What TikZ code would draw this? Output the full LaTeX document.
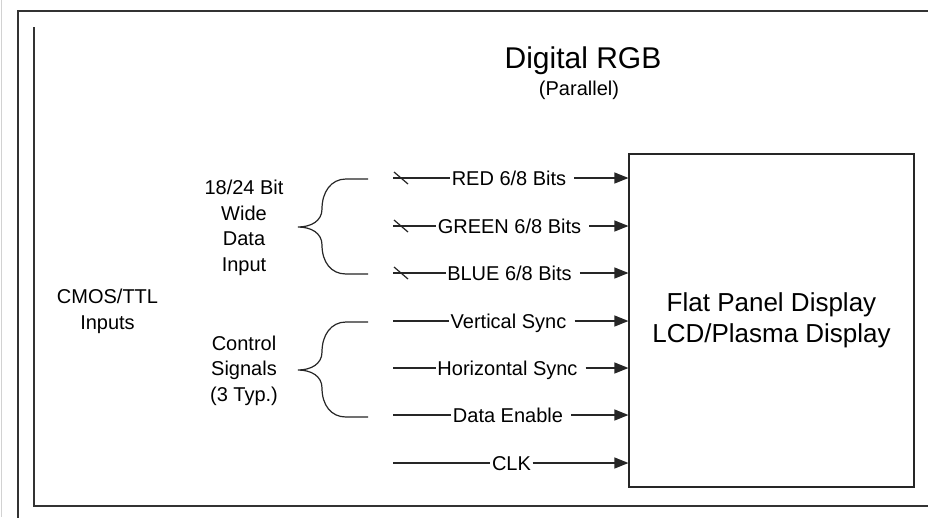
\documentclass[tikz,border=0pt]{standalone}
\usepackage{fontspec}
\setmainfont{Liberation Sans}
\usetikzlibrary{arrows.meta}
\begin{document}
\begin{tikzpicture}[x=1pt,y=-1pt,
  every node/.style={font=\fontsize{20}{25.5}\selectfont},
  lbl/.style={inner xsep=1.5pt, inner ysep=0pt, text height=14.3pt, text depth=0pt},
  sig/.style={line width=1.2pt, draw=black!85},
  arr/.style={sig, -{Triangle[length=14pt,width=11pt]}},
  frame/.style={line width=1.6pt, draw=black!80},
  brace/.style={line width=1.2pt, draw=black!85},
  multi/.style={align=center, inner sep=0pt}]
\useasboundingbox (0,0) rectangle (928,517);
\fill[white] (0,0) rectangle (928,517);
\draw[gray!35, line width=1pt] (1.5,0) -- (1.5,517);
\draw[frame] (18,520) -- (18,11) -- (930,11);
\draw[frame] (930,506) -- (34,506) -- (34,27);

% title
\node[font=\fontsize{30}{36}\selectfont, inner sep=0pt, text height=21.5pt, text depth=0pt] (title) at (583,58) {Digital RGB};
\node[lbl] (sub) at (579,88) {(Parallel)};

% display box
\node[draw=black!85, line width=1.2pt, minimum width=285pt, minimum height=333pt, align=center,
      font=\fontsize{26}{31}\selectfont] (fpd) at (771.5,320.5) {Flat Panel Display\\LCD/Plasma Display};

% left texts
\node[multi] (cmos) at (107.5,311.5) {CMOS/TTL\\Inputs};
\node[multi] (data) at (244,228) {18/24 Bit\\Wide\\Data\\Input};
\node[multi] (ctrl) at (244,370.5) {Control\\Signals\\(3 Typ.)};

% braces
\draw[brace] (368,179) -- (346,179) .. controls (331,179) and (322,192) .. (322,209)
  .. controls (322,221) and (311,227) .. (298,227)
  .. controls (311,227) and (322,233) .. (322,245)
  .. controls (322,262) and (331,274) .. (346,274) -- (368,274);
\begin{scope}[shift={(0,143)}]
\draw[brace] (368,179) -- (346,179) .. controls (331,179) and (322,192) .. (322,209)
  .. controls (322,221) and (311,227) .. (298,227)
  .. controls (311,227) and (322,233) .. (322,245)
  .. controls (322,262) and (331,274) .. (346,274) -- (368,274);
\end{scope}

% signal labels
\node[lbl] (red)   at (509,178) {RED 6/8 Bits};
\node[lbl] (green) at (509.5,226) {GREEN 6/8 Bits};
\node[lbl] (blue)  at (509.5,273) {BLUE 6/8 Bits};
\node[lbl] (vs)    at (508.5,321) {Vertical Sync};
\node[lbl] (hs)    at (507.5,368) {Horizontal Sync};
\node[lbl] (de)    at (508,415) {Data Enable};
\node[lbl] (clk)   at (511.5,463) {CLK};

% left ends
\coordinate (redin)   at (393,178);
\coordinate (greenin) at (393,226);
\coordinate (bluein)  at (393,273);
\coordinate (vsin)    at (393,321);
\coordinate (hsin)    at (393,368);
\coordinate (dein)    at (393,415);
\coordinate (clkin)   at (393,463);

\foreach \s in {red,green,blue,vs,hs,de,clk}{
  \draw[sig] (\s in) -- (\s.west);
}
\foreach \s in {red,green,blue,vs,hs,de}{
  \draw[arr] ([xshift=6.5pt]\s.east) -- (\s.east -| fpd.west);
}
\draw[arr] (clk.east) -- (clk.east -| fpd.west);

% bus ticks
\foreach \s in {red,green,blue}{
  \draw[sig] ([shift={(401,0)}]\s in -| 0,0) ++(-7,-6) -- ++(14,12);
}
\end{tikzpicture}
\end{document}
